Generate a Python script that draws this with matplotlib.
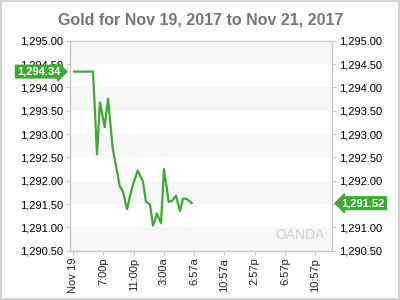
import numpy as np
import matplotlib
matplotlib.use("Agg")
import matplotlib.pyplot as plt
from matplotlib.patches import Rectangle

plt.rcParams['font.family'] = ['Liberation Sans', 'DejaVu Sans']

# hours after the "Nov 19" tick, and gold price
hours = [0.13, 2.64, 3.17, 3.56, 4.18, 4.62, 5.24, 6.16, 6.6, 7.13, 7.52, 7.92,
         8.54, 9.24, 9.64, 10.16, 10.56, 11.09, 11.62, 12.01, 12.63, 13.07,
         13.6, 14.13, 14.52, 15.05, 15.67]
price = [1294.34, 1294.34, 1292.57, 1293.68, 1293.15, 1293.76, 1292.70, 1291.89,
         1291.77, 1291.39, 1291.67, 1291.91, 1292.22, 1291.98, 1291.55, 1291.50,
         1291.04, 1291.30, 1291.09, 1292.25, 1291.55, 1291.57, 1291.68, 1291.35,
         1291.62, 1291.61, 1291.52]
tick_hours = [0, 4, 8, 12, 16, 20, 24, 28, 32]
tick_labels = ["Nov 19", "7:00p", "11:00p", "3:00a", "6:57a", "10:57a",
               "2:57p", "6:57p", "10:57p"]
y_ticks = [1290.5, 1291.0, 1291.5, 1292.0, 1292.5, 1293.0, 1293.5, 1294.0,
           1294.5, 1295.0]

green = '#3cab32'
frame = '#c8c8c8'

fig = plt.figure(figsize=(4, 3), dpi=100)
fig.patch.set_facecolor('white')
fig.add_artist(Rectangle((0.002, 0.003), 0.996, 0.994, transform=fig.transFigure,
                         fill=False, edgecolor='#cccccc', lw=1.2))

ax = fig.add_axes([0.175, 0.164, 0.655, 0.7])
ax.set_facecolor('white')
ax.set_xlim(-0.4, 34.2)
ax.set_ylim(1290.5, 1295.0)

# alternating horizontal bands
for lo in [1290.5, 1291.5, 1292.5, 1293.5, 1294.5]:
    ax.axhspan(lo, lo + 0.5, color='#f7f7f7', lw=0, zorder=0)

ax.plot(hours, price, color=green, lw=1.6, zorder=3)

ax.set_yticks(y_ticks)
ax.set_yticklabels(["{:,.2f}".format(v) for v in y_ticks])
ax.set_xticks(tick_hours)
ax.set_xticklabels(tick_labels, rotation=90)
ax.tick_params(axis='y', labelsize=8, length=3, color=frame, labelcolor='black',
               left=True, right=True, labelleft=True, labelright=True, pad=2)
ax.tick_params(axis='x', labelsize=8, length=3, color=frame, labelcolor='#222222', pad=2)
for s in ax.spines.values():
    s.set_color(frame)
    s.set_linewidth(1.0)

ax.set_title("Gold for Nov 19, 2017 to Nov 21, 2017", fontsize=11.5,
             fontweight='bold', color='#777777', pad=12)

# watermark
ax.text(0.97, 0.04, "OANDA", transform=ax.transAxes, ha='right', va='bottom',
        fontsize=10, color='#d0d0d0', zorder=1)

# price tags
ax.annotate("{:,.2f}".format(price[0]), xy=(0, price[0]),
            xycoords=('axes fraction', 'data'), xytext=(-7, 0),
            textcoords='offset points', ha='right', va='center',
            fontsize=8, fontweight='bold', color='white',
            bbox=dict(boxstyle='rarrow,pad=0.12', fc=green, ec=green), zorder=5,
            annotation_clip=False)
ax.annotate("{:,.2f}".format(price[-1]), xy=(1, price[-1]),
            xycoords=('axes fraction', 'data'), xytext=(7, 0),
            textcoords='offset points', ha='left', va='center',
            fontsize=8, fontweight='bold', color='white',
            bbox=dict(boxstyle='larrow,pad=0.12', fc=green, ec=green), zorder=5,
            annotation_clip=False)

fig.savefig("out.png", dpi=100)
